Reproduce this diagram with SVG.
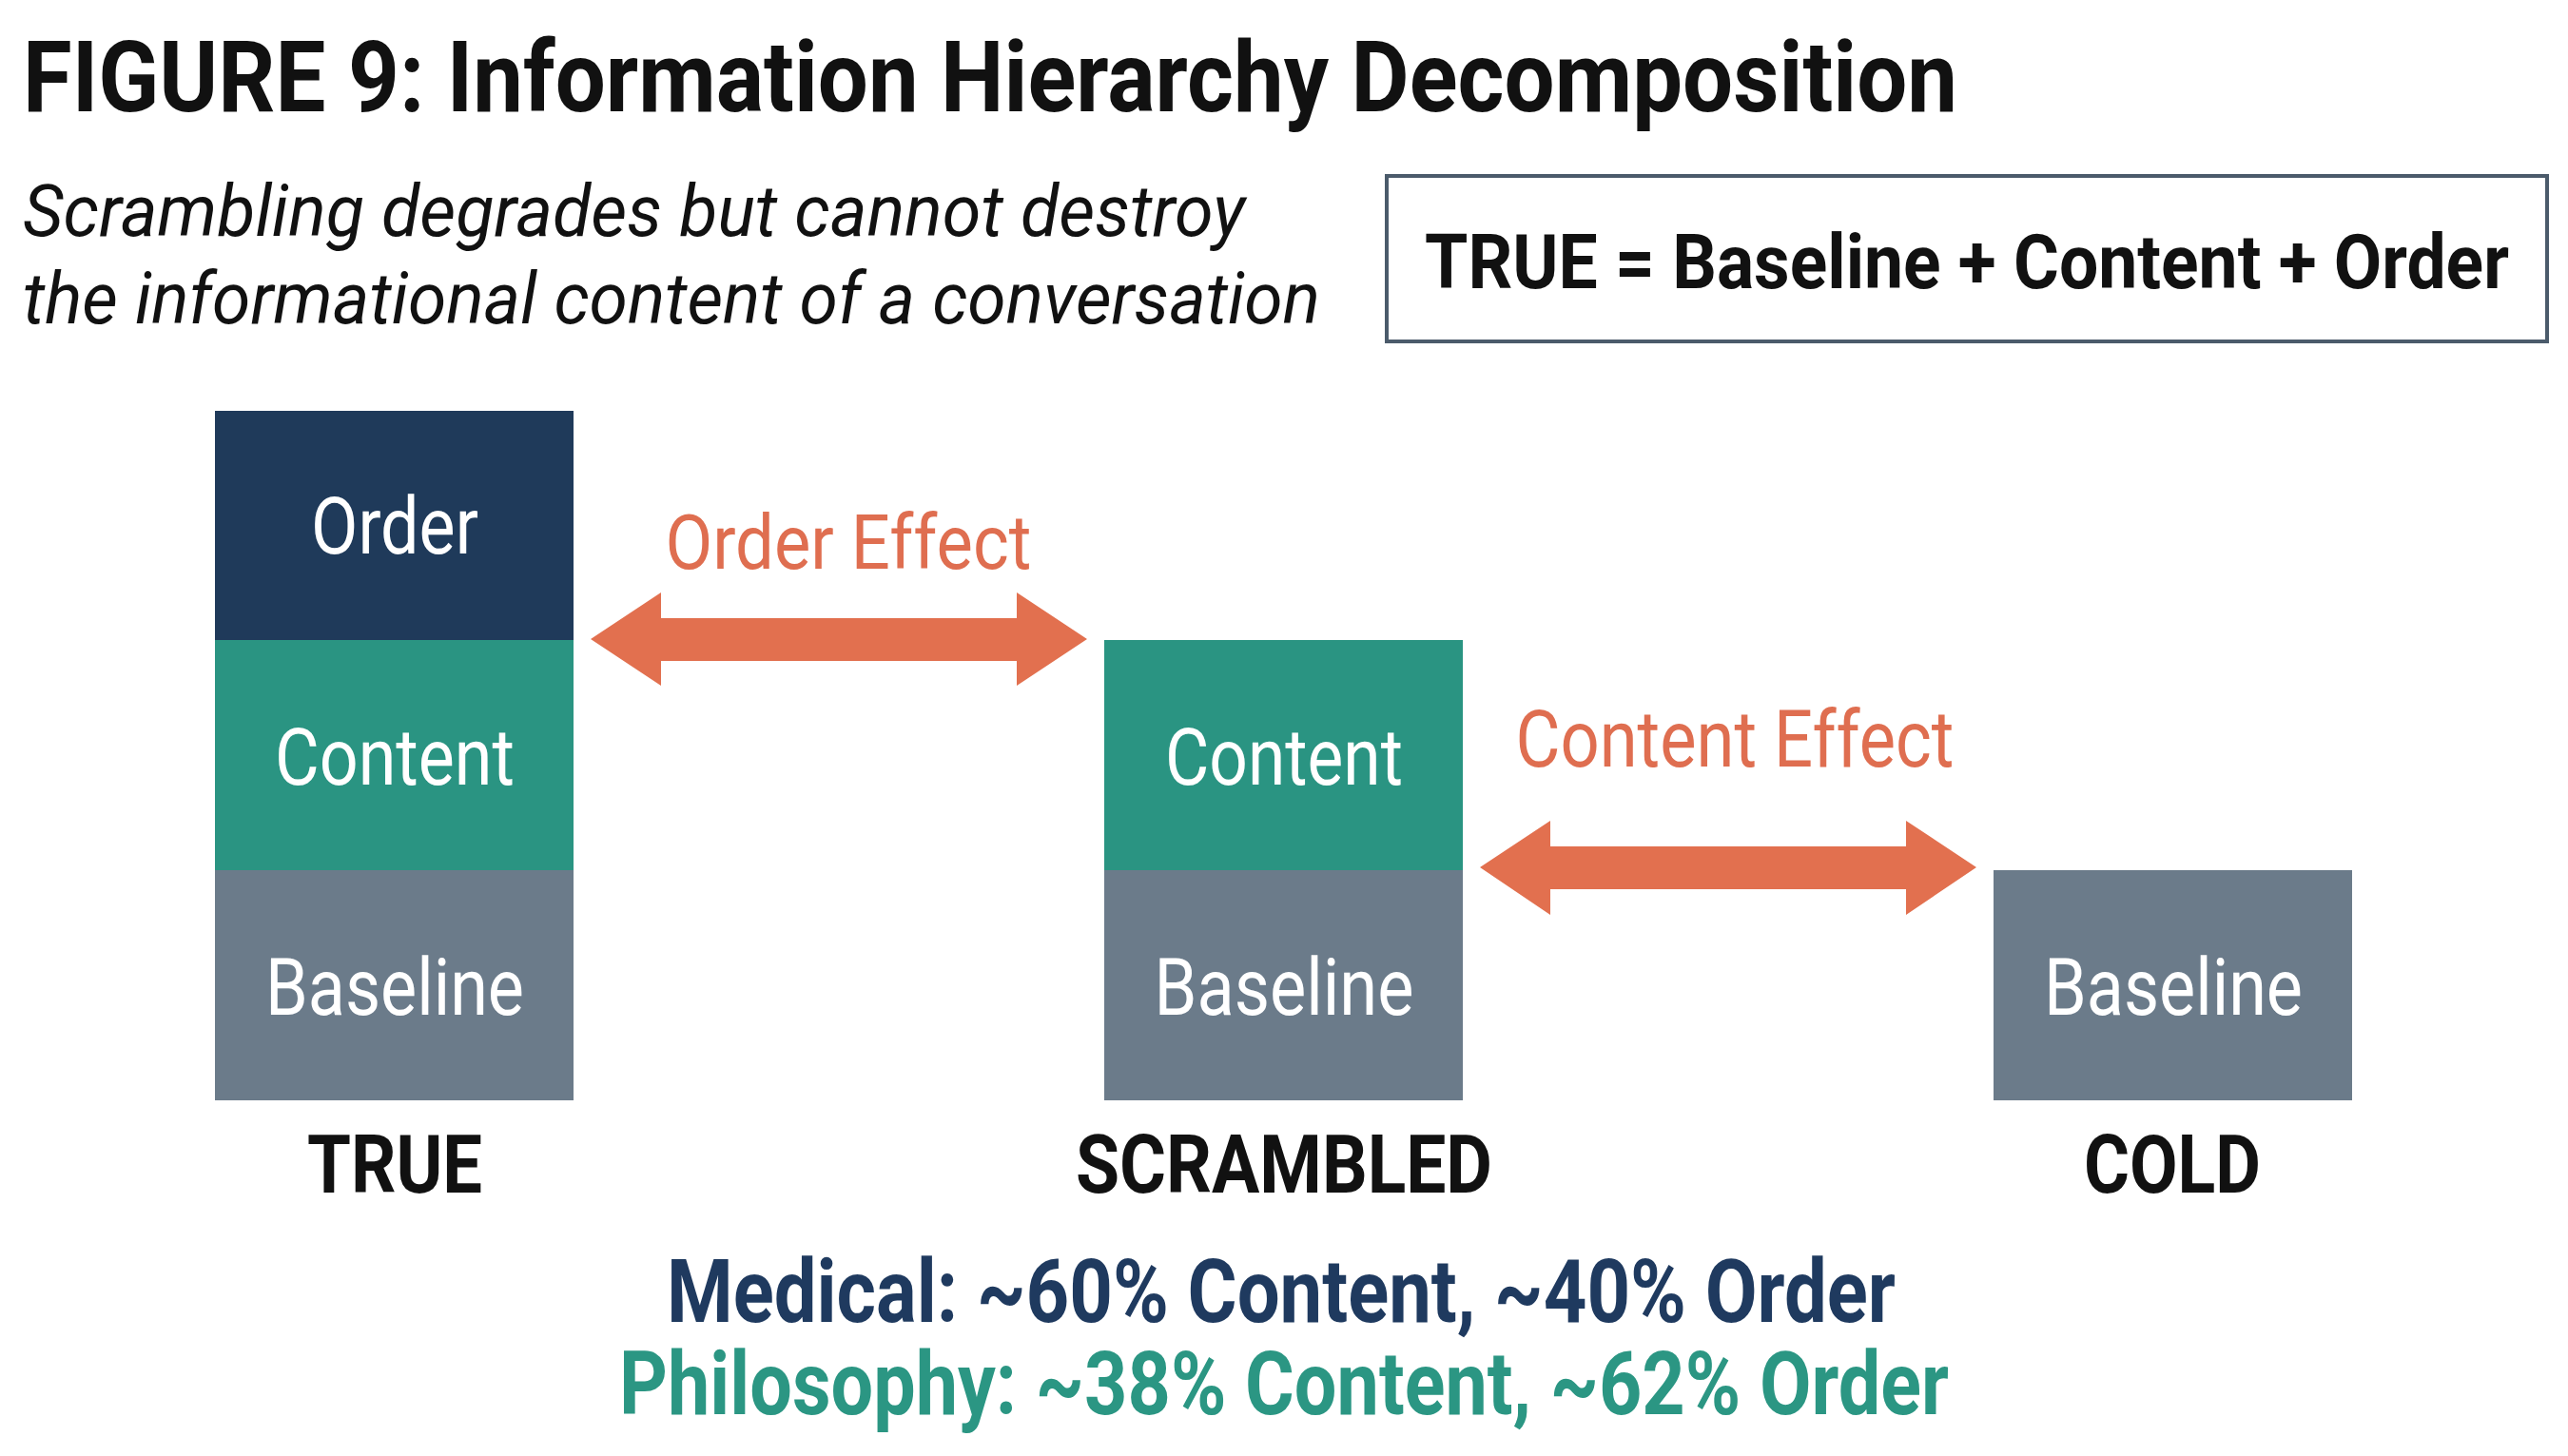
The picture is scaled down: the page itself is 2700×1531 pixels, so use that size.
<svg xmlns="http://www.w3.org/2000/svg" width="2700" height="1531" viewBox="0 0 2700 1531">
<style>
text{font-family:Roboto,"Liberation Sans",sans-serif}
.b{font-weight:700}
.lbl{fill:#ffffff;font-size:84px;text-anchor:middle}
.col{fill:#111111;font-size:86px;font-weight:700;text-anchor:middle}
.eff{fill:#df6e50;text-anchor:middle}
.order{fill:#1f3a5a}
.content{fill:#2a9482}
.base{fill:#6b7b8a}
.arrow{fill:#e2704f}
</style>
<rect width="2700" height="1531" fill="#ffffff"/>
<g id="title">
<text x="24" y="117" class="b" font-size="104" fill="#111111" textLength="2034" lengthAdjust="spacingAndGlyphs">FIGURE 9: Information Hierarchy Decomposition</text>
</g>
<g id="subtitle">
<text x="24" y="248" font-size="76" font-style="italic" fill="#111111" textLength="1285" lengthAdjust="spacingAndGlyphs">Scrambling degrades but cannot destroy</text>
<text x="24" y="340" font-size="76" font-style="italic" fill="#111111" textLength="1364" lengthAdjust="spacingAndGlyphs">the informational content of a conversation</text>
</g>
<g id="formula">
<rect x="1458" y="185" width="1220" height="174" fill="#ffffff" stroke="#4b5b6b" stroke-width="4"/>
<text x="2068" y="303" class="b" font-size="80" fill="#111111" text-anchor="middle" textLength="1140" lengthAdjust="spacingAndGlyphs">TRUE = Baseline + Content + Order</text>
</g>
<g id="true-col">
<rect class="order" x="226" y="432" width="377" height="241"/>
<rect class="content" x="226" y="673" width="377" height="242"/>
<rect class="base" x="226" y="915" width="377" height="242"/>
<text class="lbl" x="415" y="582" textLength="176" lengthAdjust="spacingAndGlyphs">Order</text>
<text class="lbl" x="415" y="825" textLength="252" lengthAdjust="spacingAndGlyphs">Content</text>
<text class="lbl" x="415" y="1067" textLength="272" lengthAdjust="spacingAndGlyphs">Baseline</text>
<text class="col" x="415" y="1254" textLength="184" lengthAdjust="spacingAndGlyphs">TRUE</text>
</g>
<g id="scrambled-col">
<rect class="content" x="1161" y="673" width="377" height="242"/>
<rect class="base" x="1161" y="915" width="377" height="242"/>
<text class="lbl" x="1350" y="825" textLength="250" lengthAdjust="spacingAndGlyphs">Content</text>
<text class="lbl" x="1350" y="1067" textLength="273" lengthAdjust="spacingAndGlyphs">Baseline</text>
<text class="col" x="1350" y="1254" textLength="438" lengthAdjust="spacingAndGlyphs">SCRAMBLED</text>
</g>
<g id="cold-col">
<rect class="base" x="2096" y="915" width="377" height="242"/>
<text class="lbl" x="2285" y="1067" textLength="272" lengthAdjust="spacingAndGlyphs">Baseline</text>
<text class="col" x="2284" y="1254" textLength="186" lengthAdjust="spacingAndGlyphs">COLD</text>
</g>
<g id="connectors">
<polygon class="arrow" points="621,672 695,623 695,650 1069,650 1069,623 1143,672 1069,721 1069,695 695,695 695,721"/>
<polygon class="arrow" points="1556,912 1630,863 1630,890 2004,890 2004,863 2078,912 2004,962 2004,935 1630,935 1630,962"/>
<text class="eff" x="892" y="598" font-size="80" textLength="385" lengthAdjust="spacingAndGlyphs">Order Effect</text>
<text class="eff" x="1824" y="806" font-size="84" textLength="461" lengthAdjust="spacingAndGlyphs">Content Effect</text>
</g>
<g id="summary">
<text x="1347" y="1390" class="b" font-size="93" fill="#1f3a5f" text-anchor="middle" textLength="1292" lengthAdjust="spacingAndGlyphs">Medical: ~60% Content, ~40% Order</text>
<text x="1350" y="1487" class="b" font-size="93" fill="#2b9683" text-anchor="middle" textLength="1398" lengthAdjust="spacingAndGlyphs">Philosophy: ~38% Content, ~62% Order</text>
</g>
</svg>
